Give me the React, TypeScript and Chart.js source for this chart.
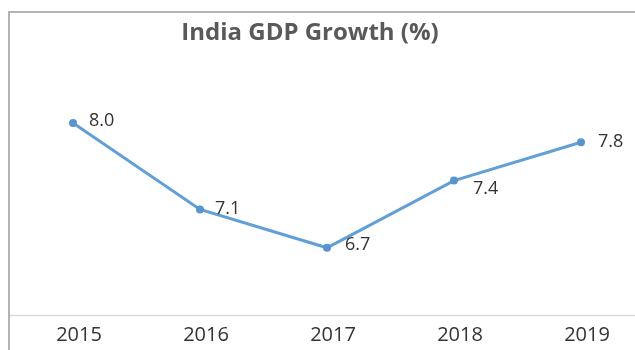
import React, { useEffect, useRef } from "react";
import { Chart, registerables } from "chart.js";

Chart.register(...registerables);

const years = ["2015", "2016", "2017", "2018", "2019"];
const gdpGrowth = [8.0, 7.1, 6.7, 7.4, 7.8];
const valueLabels = ["8.0", "7.1", "6.7", "7.4", "7.8"];
const titleText = "India GDP Growth (%)";

const FONT = "'Open Sans', 'Noto Sans', sans-serif";

const labelPlugin = {
  id: "valueLabels",
  afterDatasetsDraw(chart: any, _args: any, opts: any) {
    const ctx = chart.ctx;
    const meta = chart.getDatasetMeta(0);
    ctx.save();
    ctx.font = `${opts.size}px ${FONT}`;
    ctx.fillStyle = opts.color;
    ctx.textAlign = "left";
    ctx.textBaseline = "middle";
    meta.data.forEach((pt: any, i: number) => {
      const off = opts.offsets[i] || [0, 0];
      ctx.fillText(valueLabels[i], pt.x + off[0], pt.y + off[1]);
    });
    ctx.restore();
  },
};

const axisLinePlugin = {
  id: "axisLine",
  beforeDatasetsDraw(chart: any, _args: any, opts: any) {
    const ctx = chart.ctx;
    const y = Math.round(chart.chartArea.bottom) + 0.5;
    ctx.save();
    ctx.strokeStyle = opts.color;
    ctx.lineWidth = 1.5;
    ctx.beginPath();
    ctx.moveTo(opts.startX, y);
    ctx.lineTo(chart.width, y);
    ctx.stroke();
    ctx.restore();
  },
};

export default function App() {
  const ref = useRef<HTMLCanvasElement | null>(null);

  useEffect(() => {
    if (!ref.current) return;
    const chart = new Chart(ref.current, {
      type: "line",
      data: {
        datasets: [
          {
            data: gdpGrowth.map((v, i) => ({ x: i, y: v })),
            borderColor: "#619fd6",
            backgroundColor: "#5b93cc",
            borderWidth: 3,
            pointRadius: 4,
            pointBorderWidth: 0,
            pointBackgroundColor: "#5b93cc",
            tension: 0,
            fill: false,
          },
        ],
      },
      options: {
        animation: false,
        responsive: false,
        devicePixelRatio: 1,
        layout: { autoPadding: false, padding: { left: 0, right: 15, top: 0, bottom: 4 } },
        plugins: {
          legend: { display: false },
          tooltip: { enabled: false },
          title: {
            display: true,
            text: titleText,
            color: "#595959",
            font: { family: FONT, size: 24, weight: "bold", lineHeight: 1.2 },
            padding: { top: 19, bottom: 27.2 },
          },
          valueLabels: {
            size: 18,
            color: "#333333",
            offsets: [
              [16, -2],
              [15, -1],
              [18, -3],
              [19, 8],
              [17, 0],
            ],
          },
          axisLine: { color: "#dcdcdc", startX: 10 },
        } as any,
        scales: {
          x: {
            type: "linear",
            min: -0.5748,
            max: 4.307,
            grid: { display: false, drawTicks: false, tickLength: 0 },
            border: { display: false },
            afterBuildTicks: (scale: any) => {
              scale.ticks = years.map((_, i) => ({ value: i }));
            },
            ticks: {
              padding: 8,
              labelOffset: 6,
              color: "#333333",
              font: { family: FONT, size: 20 },
              callback: (v: any) => years[Math.round(Number(v))] ?? "",
            },
          },
          y: {
            display: false,
            min: 6,
            max: 8.5,
          },
        },
      },
      plugins: [labelPlugin, axisLinePlugin],
    });
    return () => chart.destroy();
  }, []);

  return (
    <div
      style={{
        position: "absolute",
        left: 0,
        top: 0,
        width: 635,
        height: 350,
        overflow: "hidden",
        background: "#ffffff",
      }}
    >
      <div
        style={{
          position: "absolute",
          left: 8,
          top: 11,
          width: 640,
          height: 350,
          borderTop: "2px solid #b3b3b3",
          borderLeft: "2px solid #b3b3b3",
          boxSizing: "border-box",
        }}
      />
      <canvas
        ref={ref}
        width={635}
        height={359}
        style={{ position: "absolute", left: 0, top: 0, width: 635, height: 359 }}
      />
    </div>
  );
}
